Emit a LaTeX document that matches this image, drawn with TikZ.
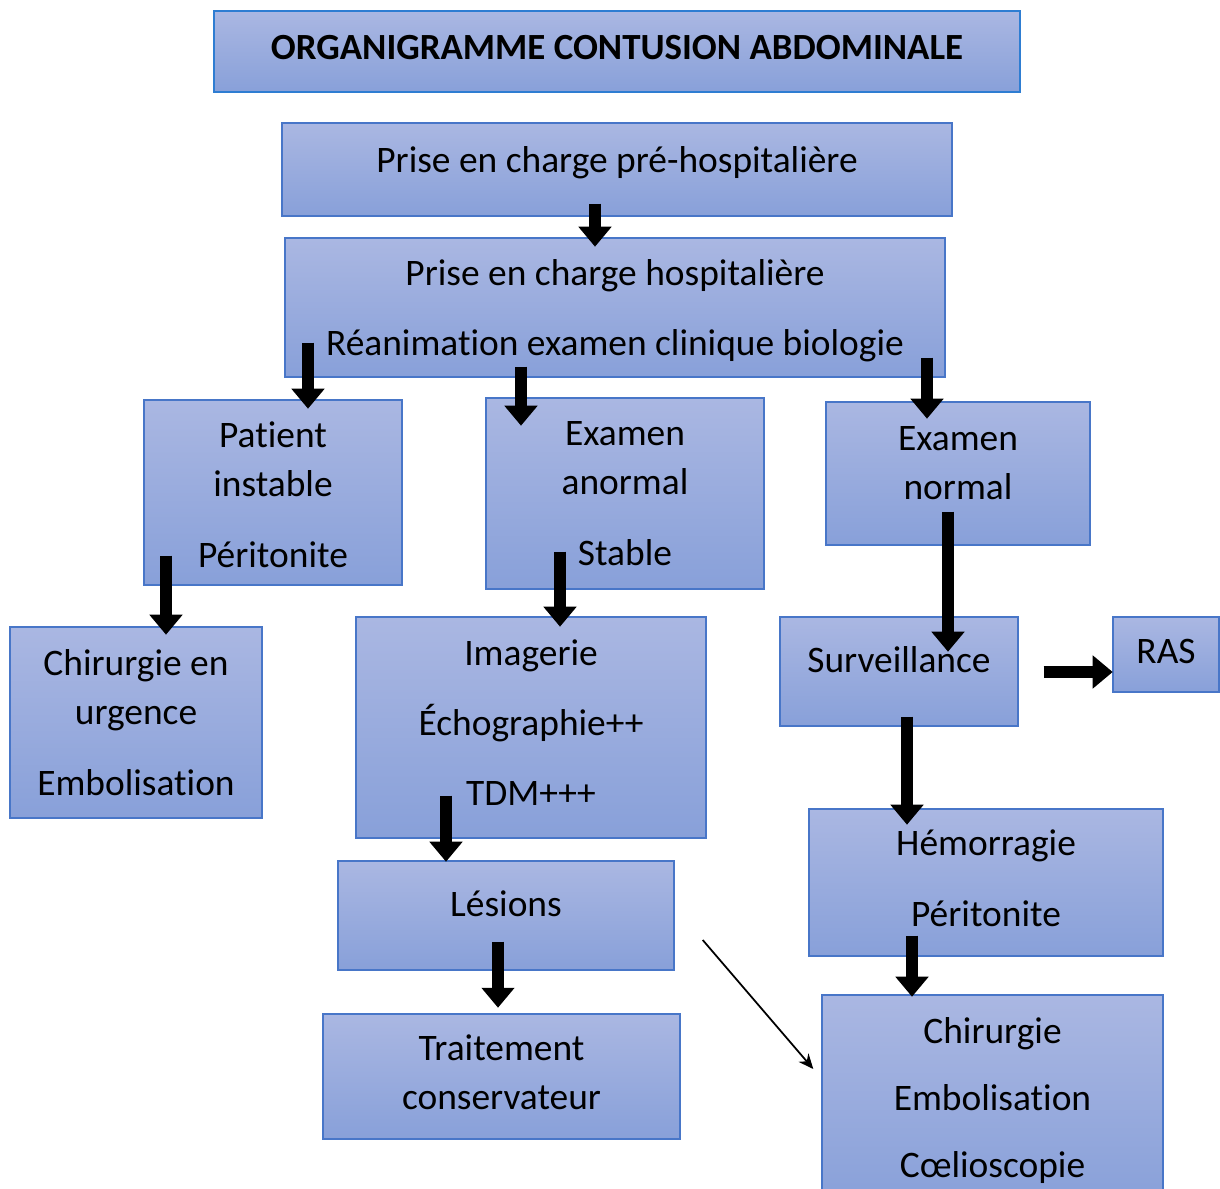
\documentclass[tikz,border=0pt]{standalone}
\usepackage{fontspec}
\setmainfont{Carlito}[Ligatures=NoCommon]
\usetikzlibrary{calc,arrows.meta}
\definecolor{boxtop}{RGB}{170,183,226}
\definecolor{boxbottom}{RGB}{136,160,217}
\definecolor{boxline}{RGB}{72,118,200}
\definecolor{titleline}{RGB}{46,125,210}
\newcommand{\firstline}{\rule{0pt}{19pt}}

\begin{document}
\begin{tikzpicture}[x=0.02cm,y=-0.02cm,
  box/.style={draw=boxline,line width=0.03cm,top color=boxtop,bottom color=boxbottom,inner sep=0pt},
  box text/.style={anchor=north,inner sep=0pt,align=center,font=\fontsize{21.3}{27.8}\selectfont},
  link/.style={line width=0.24cm,-{Triangle[width=0.64cm,length=0.4cm]}},
  thin link/.style={line width=0.035cm,-{Stealth[width=0.26cm,length=0.3cm]}}]
  \useasboundingbox (0,0) rectangle (1220,1189);
  \clip (0,0) rectangle (1220,1189);

  % boxes
  \node[box,draw=titleline,minimum width=16.12cm,minimum height=1.62cm] (title box) at (617,51.5) {};
  \node[box,minimum width=13.4cm,minimum height=1.86cm] (pre hospital) at (617,169.5) {};
  \node[box,minimum width=13.2cm,minimum height=2.78cm] (hospital) at (615,307.5) {};
  \node[box,minimum width=5.16cm,minimum height=3.7cm] (unstable) at (273,492.5) {};
  \node[box,minimum width=5.56cm,minimum height=3.82cm] (abnormal) at (625,493.5) {};
  \node[box,minimum width=5.28cm,minimum height=2.86cm] (normal) at (958,473.5) {};
  \node[box,minimum width=5.04cm,minimum height=3.82cm] (emergency) at (136,722.5) {};
  \node[box,minimum width=7cm,minimum height=4.42cm] (imaging) at (531,727.5) {};
  \node[box,minimum width=4.76cm,minimum height=2.18cm] (monitoring) at (899,671.5) {};
  \node[box,minimum width=2.12cm,minimum height=1.5cm] (ras) at (1166,654.5) {};
  \node[box,minimum width=6.72cm,minimum height=2.18cm] (lesions) at (506,915.5) {};
  \node[box,minimum width=7.08cm,minimum height=2.94cm] (bleeding) at (986,882.5) {};
  \node[box,minimum width=7.14cm,minimum height=2.5cm] (conservative) at (501.5,1076.5) {};
  \node[box,minimum width=6.82cm,minimum height=4.2cm] (surgery) at (992.5,1100) {};

  % texts
  \node[box text,font=\fontsize{21}{27.3}\selectfont\bfseries] (title) at (617,25.6) {\firstline ORGANIGRAMME CONTUSION ABDOMINALE};
  \node[box text] (pre hospital text) at (617,138.6) {\firstline Prise en charge pré-hospitalière};
  \node[box text] (hospital text) at (615,251.6) {\firstline Prise en charge hospitalière\\[0.42cm]Réanimation examen clinique biologie};
  \node[box text] (unstable text) at (273,413.8) {\firstline Patient\\instable\\[0.44cm]Péritonite};
  \node[box text] (abnormal text) at (625,411.6) {\firstline Examen\\anormal\\[0.44cm]Stable};
  \node[box text] (normal text) at (958,416.6) {\firstline Examen\\normal};
  \node[box text] (emergency text) at (136,641.6) {\firstline Chirurgie en\\urgence\\[0.44cm]Embolisation};
  \node[box text] (imaging text) at (531,631.6) {\firstline Imagerie\\[0.42cm]Échographie++\\[0.42cm]TDM+++};
  \node[box text] (monitoring text) at (899,638.6) {\firstline Surveillance};
  \node[box text] (ras text) at (1166,629.6) {\firstline RAS};
  \node[box text] (lesions text) at (506,882.6) {\firstline Lésions};
  \node[box text] (bleeding text) at (986,821.6) {\firstline Hémorragie\\[0.44cm]Péritonite};
  \node[box text] (conservative text) at (501.5,1026.6) {\firstline Traitement\\conservateur};
  \node[box text] (surgery text) at (992.5,1009.6) {\firstline Chirurgie\\[0.36cm]Embolisation\\[0.36cm]Cœlioscopie};

  % arrows
  \draw[link] ($(pre hospital.south)+(-22,-13)$) -- ++(0,43);
  \draw[link] ($(hospital.south)+(-307,-35)$) -- ++(0,66);
  \draw[link] ($(hospital.south)+(-94,-11)$) -- ++(0,59);
  \draw[link] ($(hospital.south)+(312,-20)$) -- ++(0,61);
  \draw[link] ($(unstable.south)+(-107,-30)$) -- ++(0,79);
  \draw[link] ($(abnormal.south)+(-65,-38)$) -- ++(0,75);
  \draw[link] ($(normal.south)+(-10,-34)$) -- ++(0,140);
  \draw[link] ($(monitoring.east)+(25,0.5)$) -- ++(69,0);
  \draw[link] ($(monitoring.south)+(8,-10)$) -- ++(0,108);
  \draw[link] ($(imaging.south)+(-85,-43)$) -- ++(0,66);
  \draw[link] ($(lesions.south)+(-8,-29)$) -- ++(0,66);
  \draw[link] ($(bleeding.south)+(-74,-21)$) -- ++(0,61);
  \draw[thin link] ($(lesions.east)+(28,24.5)$) -- ($(surgery.west)+(-8,-31)$);
\end{tikzpicture}
\end{document}
